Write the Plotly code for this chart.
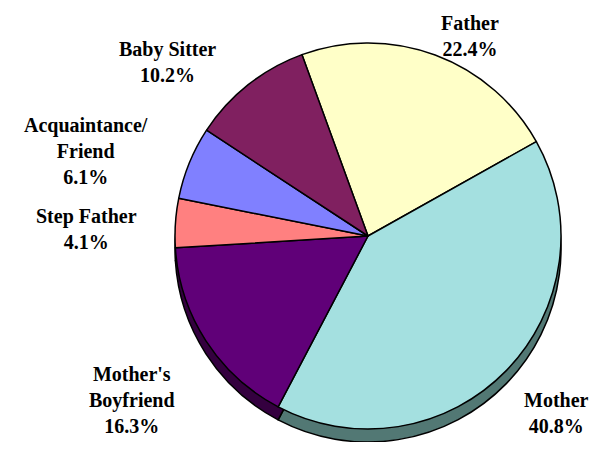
import plotly.graph_objects as go

# ---- data ----
categories = ["Father", "Mother", "Mother's Boyfriend", "Step Father",
              "Acquaintance/Friend", "Baby Sitter"]
display_labels = ["Father", "Mother", "Mother's<br>Boyfriend", "Step Father",
                  "Acquaintance/<br>Friend", "Baby Sitter"]
values = [22.4, 40.8, 16.3, 4.1, 6.1, 10.2]

top_colors = ["#FFFFC8", "#A4E0E0", "#600078", "#FF8080", "#8080FF", "#802060"]
side_colors = ["#8A8A6A", "#527874", "#34003F", "#904848", "#484890", "#4A1038"]

# label anchor positions (page pixels)
label_pos = [(470, 36), (556, 413), (132, 400), (86, 229), (86, 151), (167, 62)]

OFF = 8                              # default margin of the html body
W, H = 602 - 2 * OFF, 450 - 2 * OFF  # figure fits the window without scrolling
cx, cy, r, depth = 368, 236, 193, 13

def dom(cx_, cy_, r_):
    x0, x1 = (cx_ - r_ - OFF) / W, (cx_ + r_ - OFF) / W
    y0, y1 = 1 - (cy_ + r_ - OFF) / H, 1 - (cy_ - r_ - OFF) / H
    return dict(x=[x0, x1], y=[y0, y1])

fig = go.Figure()
fig.add_trace(go.Pie(
    labels=categories, values=values, sort=False, direction="clockwise",
    rotation=-20, domain=dom(cx, cy + depth, r),
    marker=dict(colors=side_colors, line=dict(color="black", width=1.5)),
    textinfo="none", hoverinfo="skip", showlegend=False))
fig.add_trace(go.Pie(
    labels=categories, values=values, sort=False, direction="clockwise",
    rotation=-20, domain=dom(cx, cy, r),
    marker=dict(colors=top_colors, line=dict(color="black", width=1.5)),
    textinfo="none", showlegend=False))

for lab, v, (px, py) in zip(display_labels, values, label_pos):
    fig.add_annotation(x=(px - OFF) / W, y=1 - (py - OFF) / H,
                       xref="paper", yref="paper",
                       text=f"<b>{lab}<br>{v:.1f}%</b>", showarrow=False,
                       xanchor="center", yanchor="middle",
                       font=dict(family="Liberation Serif", size=20, color="black"))

fig.update_layout(width=W, height=H, margin=dict(l=0, r=0, t=0, b=0),
                  paper_bgcolor="white", plot_bgcolor="white", showlegend=False)
fig.write_html("out.html")
